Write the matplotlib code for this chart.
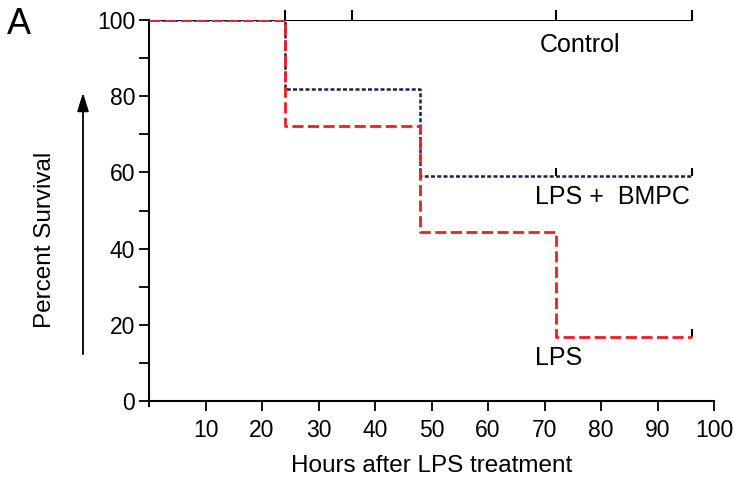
import numpy as np
import matplotlib.pyplot as plt

plt.rcParams['font.family'] = ['Liberation Sans', 'DejaVu Sans']

# survival data (hours, percent)
ctrl_t = [0, 96]
ctrl_s = [100, 100]
bmpc_t = [0, 24, 48, 96]
bmpc_s = [100, 81.8, 59.1, 59.1]
lps_t = [0, 24, 48, 72, 96]
lps_s = [100, 72.2, 44.4, 16.7, 16.7]

# censor marks
ctrl_cens = [24, 36, 72, 96]
bmpc_cens = [72, 96]
lps_cens = [96]

xticks = [10, 20, 30, 40, 50, 60, 70, 80, 90, 100]
yticks = [0, 20, 40, 60, 80, 100]

fig = plt.figure(figsize=(7.34, 4.78), dpi=100)
ax = fig.add_axes([0.203, 0.161, 0.770, 0.797])

red = '#e8202a'
navy = '#1c1f4e'
up = [(0, 0), (0, 1)]

ax.step(ctrl_t, ctrl_s, where='post', color='black', lw=1.5, zorder=2)
ax.step(bmpc_t, bmpc_s, where='post', color=navy, lw=1.8, ls=(0, (1.6, 0.9)), zorder=3)
ax.step(lps_t, lps_s, where='post', color=red, lw=2, ls=(0, (4, 1.6)), zorder=4)

ax.plot(ctrl_cens, [100] * len(ctrl_cens), ls='none', marker=up, ms=14,
        mew=1.5, color='black', clip_on=False)
ax.plot(bmpc_cens, [59.1] * len(bmpc_cens), ls='none', marker=up, ms=12,
        mew=1.5, color='black', clip_on=False)
ax.plot(lps_cens, [16.7] * len(lps_cens), ls='none', marker=up, ms=12,
        mew=1.5, color='black', clip_on=False)

ax.text(69.2, 93.4, 'Control', fontsize=18, va='center', ha='left')
ax.text(68.3, 53.5, 'LPS +  BMPC', fontsize=18, va='center', ha='left')
ax.text(68.3, 11.3, 'LPS', fontsize=18, va='center', ha='left')

ax.set_xlim(0, 100)
ax.set_ylim(0, 100)
ax.set_xticks(xticks)
ax.set_yticks(yticks)
ax.set_yticks(np.arange(10, 100, 20), minor=True)
ax.tick_params(axis='both', which='both', direction='out', length=7, width=1.3,
               labelsize=16.5)
ax.tick_params(axis='x', pad=6)
ax.tick_params(axis='y', pad=3)
ax.spines['top'].set_visible(False)
ax.spines['right'].set_visible(False)
ax.spines['left'].set_linewidth(1.5)
ax.spines['bottom'].set_linewidth(1.5)
ax.spines['left'].set_bounds(-1.2, 100)

ax.set_xlabel('Hours after LPS treatment', fontsize=17.5, labelpad=9)
fig.text(45 / 734, 1 - 240 / 478, 'Percent Survival', rotation=90,
         fontsize=17.5, ha='center', va='center')
ax.annotate('', xy=(83, 388), xytext=(83, 121), xycoords='figure pixels',
            textcoords='figure pixels', annotation_clip=False,
            arrowprops=dict(arrowstyle='-|>,head_length=0.8,head_width=0.25',
                            color='black', lw=1.3, mutation_scale=14))
fig.text(0.010, 0.985, 'A', fontsize=26, ha='left', va='top')

fig.savefig('out.png', dpi=100)
